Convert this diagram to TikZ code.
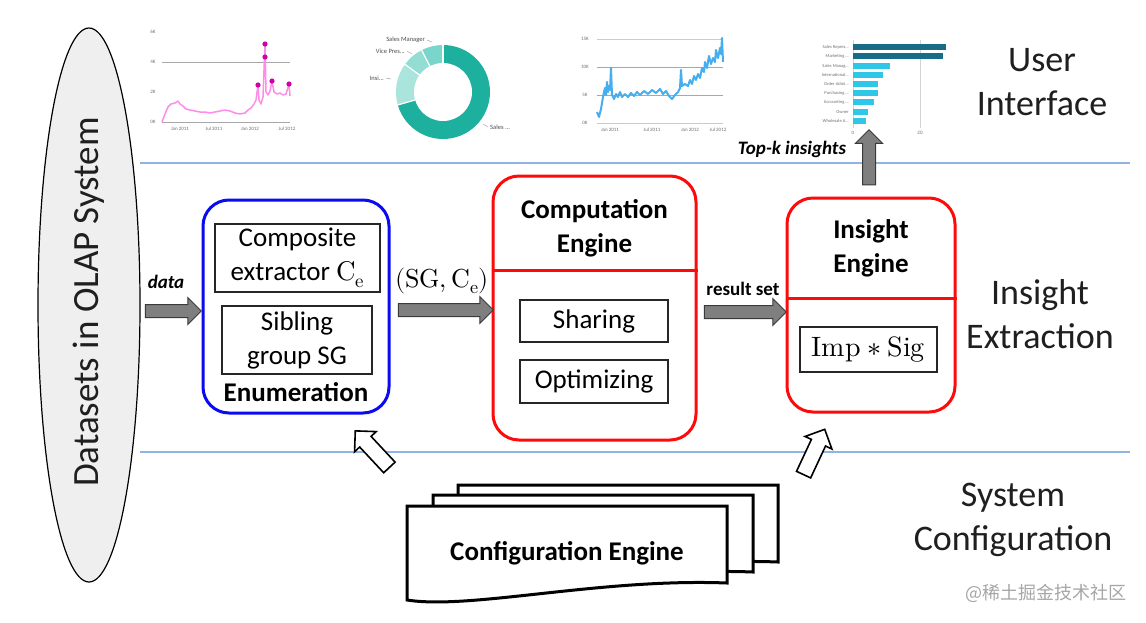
\documentclass[tikz,border=0pt]{standalone}
\usepackage{fontspec}
\usepackage{unicode-math}
\setmainfont{Carlito}
\setmathfont{Latin Modern Math}
\newfontfamily\cjkfont{Noto Sans CJK SC}
\usetikzlibrary{shapes.geometric,shapes.arrows,calc}
\newcommand\mydots{...}
\definecolor{arrfill}{HTML}{7F7F7F}
\definecolor{arrborder}{HTML}{3A3A3A}
\definecolor{sepblue}{HTML}{8EB4E3}
\definecolor{enumblue}{HTML}{0B0BF0}
\definecolor{engred}{HTML}{FF0A0A}
\definecolor{ellfill}{HTML}{EFEFEF}
\definecolor{pinkline}{HTML}{FF8CE8}
\definecolor{pinkdot}{HTML}{D000A8}
\definecolor{skyline}{HTML}{45AEEF}
\definecolor{tealdark}{HTML}{1DB09F}
\definecolor{teala}{HTML}{7AD6CA}
\definecolor{tealb}{HTML}{93DDD3}
\definecolor{tealc}{HTML}{A9E5DD}
\definecolor{bardark}{HTML}{176D87}
\definecolor{barlight}{HTML}{2FC6E8}
\definecolor{gridc}{HTML}{A8A8A8}
\definecolor{ticktext}{HTML}{707070}
\begin{document}
\begin{tikzpicture}[x=1pt,y=-1pt,
  engbox/.style={draw, rounded corners=26pt, line width=3pt, inner sep=0pt},
  inbox/.style={draw=black!85, line width=1.2pt, align=center, inner sep=0pt,
    font=\fontsize{27}{34}\selectfont},
  titletext/.style={align=center, font=\fontsize{27}{34}\selectfont\bfseries},
  blockarr/.style={single arrow, draw=arrborder, fill=arrfill, line width=1pt,
    inner sep=6pt, single arrow head extend=7pt, minimum width=0pt},
  hollowarr/.style={single arrow, draw=black, fill=white, line width=1.6pt,
    inner sep=7pt, single arrow head extend=7pt, minimum width=0pt},
  sidelabel/.style={align=center, font=\fontsize{36}{44}\selectfont, text=black!88},
  arrlabel/.style={font=\fontsize{19}{22}\selectfont\bfseries\itshape},
  tinylabel/.style={font=\fontsize{5}{6}\selectfont, text=ticktext, inner sep=0pt},
  docpage/.pic={\filldraw[fill=white, draw=black, line width=3pt, line join=miter]
    (0,0) -- (320,0) -- (320,77) .. controls (193,72) and (63,104) .. (0,94) -- cycle;}
]
\useasboundingbox (0,0) rectangle (1146,622);
\fill[white] (0,0) rectangle (1146,622);

% separator lines
\draw[sepblue, line width=1.5pt] (140,163) -- (1130,163);
\draw[sepblue, line width=1.5pt] (140,452) -- (1130,452);

% OLAP ellipse
\node[ellipse, draw, fill=ellfill, line width=1.2pt, minimum width=102pt, minimum height=554pt] (olap) at (89,305) {};
\node[rotate=90, font=\fontsize{37}{40}\selectfont, text=black!88] (olaptext) at (89,302) {Datasets in OLAP System};

% ---------- Chart 1 (pink line) ----------
\draw[gridc, line width=1pt] (162,62) -- (290,62);
\draw[gridc, line width=1pt] (162,122) -- (290,122);
\node[tinylabel] (c1a) at (153,32) {6K};
\node[tinylabel] (c1b) at (153,62) {4K};
\node[tinylabel] (c1c) at (153,92) {2K};
\node[tinylabel] (c1d) at (153,122) {0K};
\node[tinylabel] (c1e) at (180,129) {Jan 2011};
\node[tinylabel] (c1f) at (214,129) {Jul 2011};
\node[tinylabel] (c1g) at (250,129) {Jan 2012};
\node[tinylabel] (c1h) at (287,129) {Jul 2012};
\draw[pinkline, line width=1.5pt, line join=round] plot coordinates {
 (162,122) (165,114) (168,107) (171,104) (175,103) (178,101) (180,104) (183,106) (186,109)
 (190,110) (195,111) (200,112) (205,112) (210,113) (215,112) (220,111) (225,110) (230,111)
 (235,113) (240,114) (245,113) (248,110) (251,108) (254,104) (256,100) (258,85) (259,100)
 (261,104) (263,97) (265,44) (266,92) (268,95) (270,91) (272,81) (274,92) (277,94)
 (280,93) (283,95) (286,94) (289,84) (290,96)};
\fill[pinkdot] (258,85) circle (2.6);
\fill[pinkdot] (265,44) circle (2.6);
\fill[pinkdot] (265,57) circle (2.6);
\fill[pinkdot] (272,81) circle (2.6);
\fill[pinkdot] (289,84) circle (2.6);

% ---------- Chart 2 (donut) ----------
\coordinate (dc) at (443,92);
\fill[tealdark] (dc) -- ([shift={(-196:47)}]dc) arc[start angle=-196, end angle=-450, radius=47] -- cycle;
\fill[tealc] (dc) -- ([shift={(-144:47)}]dc) arc[start angle=-144, end angle=-196, radius=47] -- cycle;
\fill[tealb] (dc) -- ([shift={(-117:47)}]dc) arc[start angle=-117, end angle=-144, radius=47] -- cycle;
\fill[teala] (dc) -- ([shift={(-90:47)}]dc) arc[start angle=-90, end angle=-117, radius=47] -- cycle;
\foreach \a in {-90,-117,-144,-196}
  \draw[white, line width=1.2pt] (dc) -- ([shift={(\a:47.5)}]dc);
\fill[white] (dc) circle (29);
\node[tinylabel, anchor=east, font=\fontsize{6.5}{7}\selectfont, text=black!70] (d1) at (425,40) {Sales Manager};
\node[tinylabel, anchor=east, font=\fontsize{6.5}{7}\selectfont, text=black!70] (d2) at (405,51) {Vice Pres\mydots};
\node[tinylabel, anchor=east, font=\fontsize{6.5}{7}\selectfont, text=black!70] (d3) at (384,78) {Insi\mydots};
\node[tinylabel, anchor=west, font=\fontsize{6.5}{7}\selectfont, text=black!70] (d4) at (490,127) {Sales \mydots};
\draw[gridc, line width=0.5pt] (d1.east) ++(2,0) -- ++(5,2);
\draw[gridc, line width=0.5pt] (d2.east) ++(2,0) -- ++(5,3);
\draw[gridc, line width=0.5pt] (d3.east) ++(2,0) -- ++(5,1);
\draw[gridc, line width=0.5pt] (d4.west) ++(-2,0) -- ++(-5,-3);

% ---------- Chart 3 (blue line) ----------
\draw[gridc!60, line width=0.8pt] (597,39) -- (723,39);
\draw[gridc, line width=1pt] (597,67) -- (723,67);
\draw[gridc, line width=1pt] (597,95) -- (723,95);
\draw[gridc!60, line width=0.8pt] (597,123) -- (723,123);
\node[tinylabel] (c3a) at (585,39) {15K};
\node[tinylabel] (c3b) at (585,67) {10K};
\node[tinylabel] (c3c) at (585,95) {5K};
\node[tinylabel] (c3d) at (585,123) {0K};
\node[tinylabel] (c3e) at (610,130) {Jan 2011};
\node[tinylabel] (c3f) at (652,130) {Jul 2011};
\node[tinylabel] (c3g) at (690,130) {Jan 2012};
\node[tinylabel] (c3h) at (718,130) {Jul 2012};
\draw[skyline, line width=2pt, line join=round] plot coordinates {
 (597,112) (599,117) (601,109) (603,97) (604,92) (605,88) (606,95) (607,82) (608,92)
 (609,86) (610,90) (611,68) (612,95) (614,99) (616,94) (618,97) (620,92) (622,97)
 (625,94) (628,97) (631,93) (634,96) (637,92) (640,95) (644,91) (648,94) (652,90)
 (656,93) (660,89) (663,94) (666,91) (669,96) (672,99) (675,95) (678,92) (680,88)
 (681,70) (682,86) (685,84) (688,86) (690,80) (692,84) (694,76) (696,80) (698,74)
 (700,78) (702,68) (704,72) (705,62) (707,68) (709,56) (711,64) (713,58) (715,62)
 (716,50) (718,58) (720,48) (721,54) (722,38) (723,62)};

% ---------- Chart 4 (bars) ----------
\draw[gridc!50, line width=0.6pt] (853,40) -- (853,128);
\draw[gridc!50, line width=0.6pt] (920,40) -- (920,128);
\foreach \y/\r/\c/\t in {47/946/bardark/Sales Repres\mydots,56/943/bardark/Marketing \mydots,66/890/barlight/Sales Manag\mydots,75/883/barlight/International\mydots,84/878/barlight/Order Admi\mydots,93/878/barlight/Purchasing \mydots,102/874/barlight/Accounting \mydots,112/868/barlight/Owner,121/866/barlight/Wholesale A\mydots}{
  \fill[\c] (853,\y-3.3) rectangle (\r,\y+3.3);
  \node[tinylabel, anchor=east, font=\fontsize{4.5}{5}\selectfont] at (849,\y) {\t};
}
\node[tinylabel] (b0) at (853,133) {0};
\node[tinylabel] (b20) at (920,133) {20};

% ---------- Right side labels ----------
\node[sidelabel] (ui) at (1042,82) {User\\Interface};
\node[sidelabel] (ie) at (1040,314) {Insight\\Extraction};
\node[sidelabel] (sc) at (1013,520) {System\\Configuration};

% ---------- Enumeration ----------
\node[engbox, draw=enumblue, minimum width=186pt, minimum height=213pt] (enum) at (296,306.5) {};
\node[inbox, minimum width=165pt, minimum height=68pt] (compx) at (297.5,258) {Composite\\extractor $\symup{C}_{\symup{e}}$};
\node[inbox, minimum width=150pt, minimum height=68pt] (sib) at (297,340) {Sibling\\group SG};
\node[titletext] (enumlbl) at (296,392) {Enumeration};

% ---------- Computation Engine ----------
\node[engbox, draw=engred, minimum width=203pt, minimum height=264pt] (comp) at (594.5,308) {};
\coordinate (compdiv) at (594.5,270);
\draw[engred, line width=3pt] (comp.west |- compdiv) -- (comp.east |- compdiv);
\node[titletext] (comptitle) at (594.5,228) {Computation\\Engine};
\node[inbox, minimum width=148pt, minimum height=42pt] (share) at (594,321) {Sharing};
\node[inbox, minimum width=148pt, minimum height=43pt] (opt) at (594,381.5) {Optimizing};

% ---------- Insight Engine ----------
\node[engbox, draw=engred, minimum width=168pt, minimum height=214pt] (ins) at (871,305) {};
\coordinate (insdiv) at (871,298);
\draw[engred, line width=3pt] (ins.west |- insdiv) -- (ins.east |- insdiv);
\node[titletext] (institle) at (871,248.5) {Insight\\Engine};
\node[inbox, minimum width=137pt, minimum height=45pt, font=\fontsize{28}{34}\selectfont] (impsig) at (868.5,349.5) {$\symup{Imp}\ast\symup{Sig}$};

% ---------- Configuration Engine ----------
\pic at (458,485) {docpage};
\pic at (433,495) {docpage};
\pic at (407,506) {docpage};
\node[titletext] (cfg) at (567,553) {Configuration Engine};

% ---------- Block arrows ----------
\node[blockarr, minimum height=56pt] (arrdata) at (170,311) {};
\node[arrlabel] (datalbl) at (166,282) {data};
\node[blockarr, minimum height=95pt] (arrsg) at (442.5,310) {};
\node[font=\fontsize{26}{30}\selectfont] (sglbl) at (442,281) {$(\symup{SG},\symup{C}_{\symup{e}})$};
\node[blockarr, minimum height=82pt] (arrres) at (742,312) {};
\node[font=\fontsize{19}{22}\selectfont\bfseries] (reslbl) at (743,289) {result set};
\node[blockarr, minimum height=55pt, rotate=90] (arrtop) at (869,160.5) {};
\node[arrlabel] (toplbl) at (792,149) {Top-k insights};

% hollow arrows from configuration engine
\node[hollowarr, minimum height=50pt, rotate=133] (cfgarr1) at (375,452) {};
\node[hollowarr, minimum height=50pt, rotate=65] (cfgarr2) at (812.5,455.5) {};

% watermark
\node[font=\cjkfont\fontsize{18}{20}\selectfont, text=black!35] (wm) at (1046,593) {@稀土掘金技术社区};
\end{tikzpicture}
\end{document}
